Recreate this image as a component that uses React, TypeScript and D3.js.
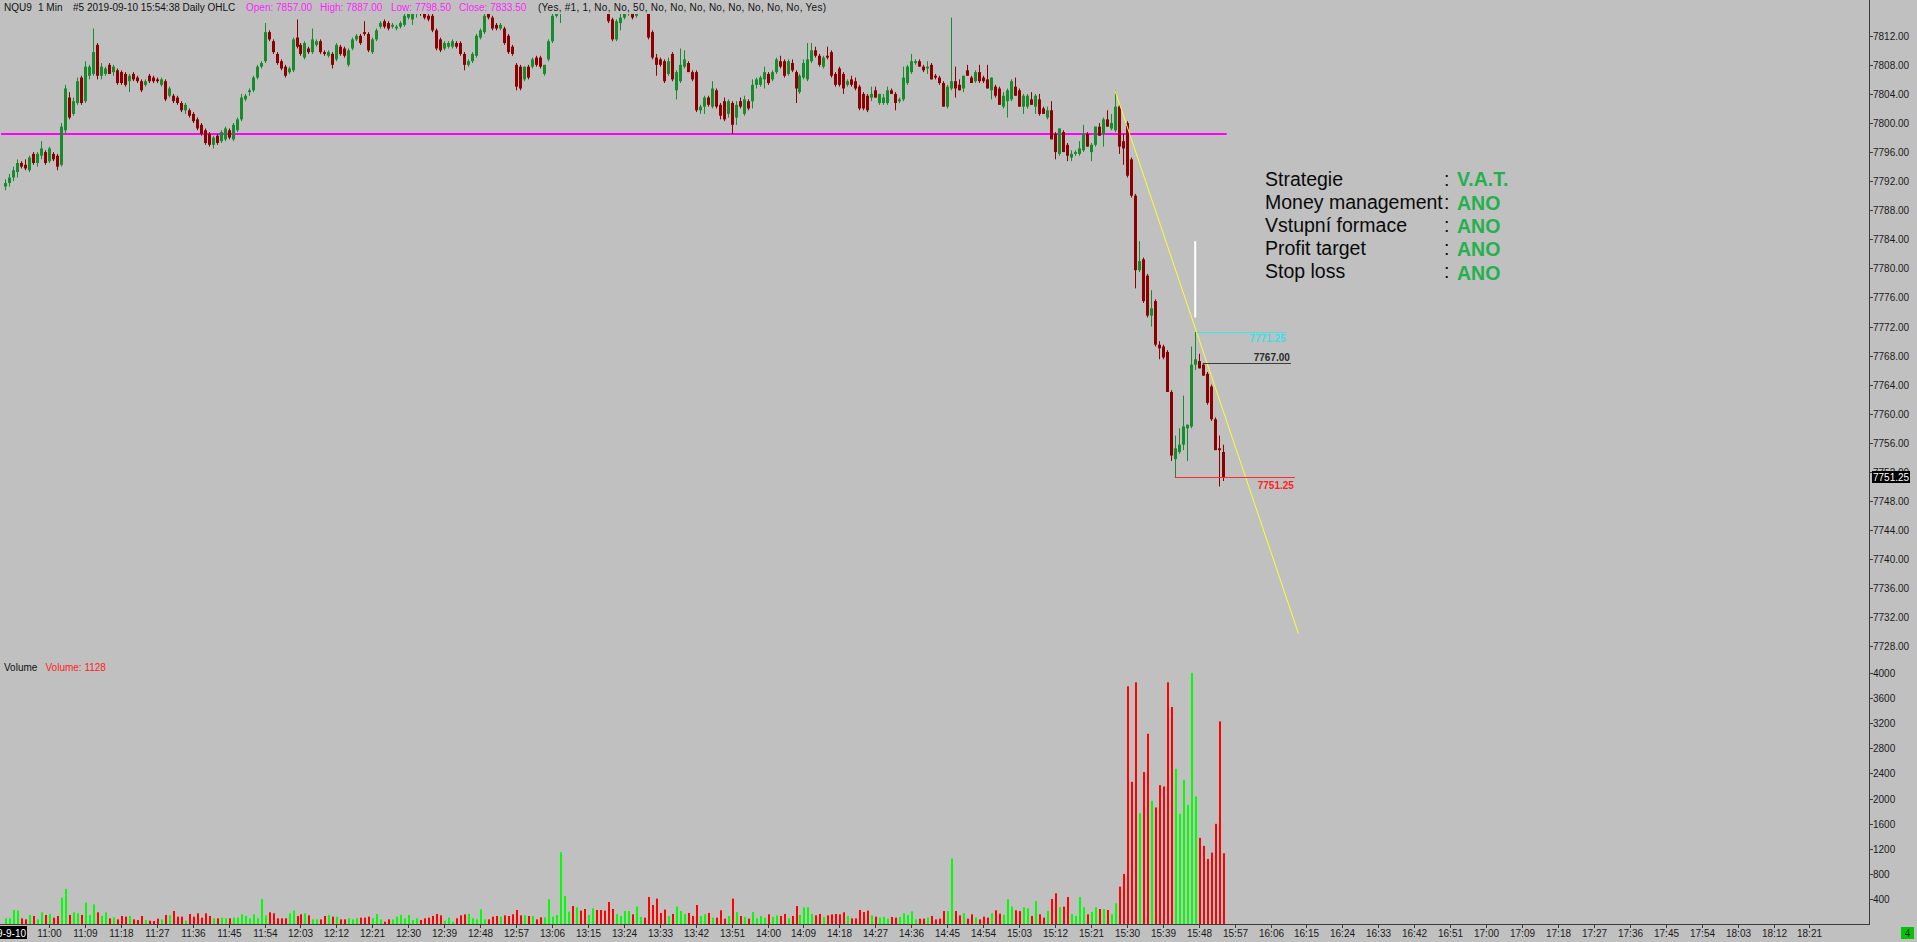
import React, { useEffect } from "react";
import * as d3 from "d3";

const FONT = '"Liberation Sans", Arial, Helvetica, sans-serif';

// ---------------- DATA ----------------
const firstBarTime = "10:49"; // 1-minute bars, NQU9

const opens = [
  7791.25, 7791.75, 7792.5, 7793.25, 7794.5, 7794.25, 7793.5, 7795.75, 7794.5, 7795.5,
  7796, 7794.75, 7795.75, 7795.5, 7794.25, 7799, 7803.5, 7801.25, 7802.75, 7806.25,
  7803, 7806.5, 7806.75, 7810.75, 7806.5, 7806.75, 7808, 7807, 7807.25, 7807,
  7806.75, 7805.75, 7806.75, 7806.25, 7805.75, 7805.25, 7806.5, 7806.25, 7806, 7805.25,
  7805.75, 7803.75, 7803.75, 7803.5, 7802.75, 7801.75, 7801.75, 7801.25, 7800.5, 7799.75,
  7799, 7798.5, 7797, 7798.25, 7797.5, 7797.75, 7799, 7797.75, 7799, 7800.5,
  7803.25, 7804.25, 7804.5, 7806.25, 7807.75, 7808.5, 7812.5, 7811.25, 7809.5, 7808.5,
  7807.75, 7807, 7807.25, 7811.75, 7810.75, 7809, 7810.25, 7809.75, 7810.75, 7811.25,
  7809.75, 7809.25, 7809.5, 7808.75, 7810.5, 7810.25, 7808, 7810.25, 7811.5, 7812,
  7812.5, 7812.25, 7809.75, 7811.5, 7813.25, 7814, 7813.75, 7813.25, 7813, 7813.25,
  7813.5, 7814.5, 7814.25, 7815, 7815.5, 7815, 7814.75, 7814.75, 7812.75, 7811.5,
  7810.25, 7810.5, 7810.5, 7811, 7811, 7809.5, 7808, 7808.5, 7809.25, 7811.75,
  7812.5, 7815, 7814.5, 7813.5, 7813, 7813, 7812, 7810.5, 7808, 7807.75,
  7806, 7807.75, 7807.75, 7809, 7809, 7806.75, 7808.75, 7811.25, 7814.75, 7815.5,
  7816.5, 7817.5, 7818.5, 7818, 7819, 7818.5, 7817.5, 7818, 7818.75, 7818,
  7817, 7815.75, 7814.25, 7811.5, 7813.75, 7814.5, 7815, 7815.5, 7814.75, 7815.5,
  7816.5, 7816, 7812.5, 7809, 7808.75, 7808.5, 7806.75, 7809.5, 7804.5, 7805.75,
  7807.75, 7808.25, 7807, 7807, 7801.75, 7802.25, 7803.5, 7802.25, 7804.5, 7802.5,
  7803, 7801.25, 7802.75, 7800.75, 7803, 7801.25, 7803, 7803, 7805.25, 7805.25,
  7806, 7806.75, 7806, 7807, 7808.5, 7808.5, 7806.75, 7808.25, 7807, 7804.25,
  7806.25, 7806, 7808.5, 7810, 7809.25, 7807.75, 7809.25, 7809.75, 7806.75, 7807.5,
  7806.75, 7805.25, 7806, 7805.75, 7805, 7804, 7803.75, 7803.5, 7804.5, 7802.75,
  7802.75, 7802.75, 7804.5, 7804, 7803, 7803.25, 7805.5, 7807, 7808.25, 7808.5,
  7807.75, 7807.5, 7808, 7806.5, 7806.25, 7805.5, 7802.25, 7804.75, 7805.75, 7805.25,
  7804.75, 7807.25, 7806.25, 7805.75, 7807, 7806.25, 7806, 7804.5, 7805, 7804.75,
  7802.25, 7803, 7803.25, 7805, 7804.5, 7802.25, 7802.25, 7803.25, 7802.25, 7803.25,
  7802, 7800.75, 7801.75, 7798.5, 7795.75, 7798.75, 7797, 7795.25, 7795.75, 7795.75,
  7796.25, 7798.5, 7796, 7797, 7799.5, 7798.5, 7800.5, 7799.25, 7799, 7802.25,
  7797.5, 7800, 7795, 7790, 7779.75, 7781.25, 7779, 7773.5, 7775.5, 7769.5,
  7769.25, 7768.5, 7763, 7753.75, 7754.75, 7755.75, 7758, 7758.25, 7766.75, 7767.25,
  7766.75, 7765.5, 7763.75, 7759.25, 7755.25, 7754.75,
];

const highs = [
  7792.25, 7793, 7794, 7795, 7794.75, 7795, 7795.5, 7796, 7796, 7797.5,
  7796.25, 7796.75, 7796, 7795.75, 7800, 7805.25, 7804.25, 7803.5, 7806.25, 7806.5,
  7808.5, 7808, 7813, 7811, 7808.25, 7807.75, 7808.25, 7808, 7807.5, 7807.25,
  7807, 7806.75, 7807, 7806.5, 7806, 7806, 7806.75, 7806.5, 7806.25, 7806.25,
  7806, 7805, 7804, 7803.75, 7803, 7802.75, 7802, 7801.5, 7800.75, 7800,
  7799.25, 7798.75, 7798.25, 7798.5, 7799, 7799.5, 7799.25, 7800, 7800.75, 7804,
  7804, 7804.75, 7806.5, 7808, 7808.5, 7813.75, 7812.75, 7811.5, 7809.75, 7808.75,
  7808, 7807.75, 7811.75, 7814.25, 7811, 7811.25, 7810.5, 7813, 7811.5, 7811.5,
  7810, 7810, 7809.75, 7811, 7810.75, 7810.5, 7810.25, 7811.75, 7812.25, 7812.25,
  7814, 7812.5, 7811.75, 7813, 7814, 7814.25, 7814, 7813.75, 7813.5, 7814,
  7815, 7815.25, 7815.5, 7816, 7816.25, 7815.5, 7815, 7815.25, 7813, 7811.75,
  7811.25, 7811.25, 7811.5, 7811.25, 7811.25, 7809.75, 7808.75, 7809.75, 7812.25, 7813,
  7815.25, 7815.5, 7814.75, 7813.75, 7813.75, 7813.25, 7812.25, 7810.75, 7808.25, 7808,
  7807.75, 7808, 7809, 7809.25, 7809.25, 7808, 7811.5, 7815.25, 7816, 7816.5,
  7818, 7819, 7819.5, 7819.25, 7820, 7819, 7818.5, 7819, 7819.5, 7818.5,
  7817.5, 7816, 7814.5, 7814.25, 7815, 7815.5, 7816, 7815.75, 7815.5, 7817,
  7817.25, 7816.25, 7812.75, 7809.5, 7809, 7808.75, 7809, 7809.75, 7807.25, 7810.25,
  7810, 7808.5, 7807.25, 7807.25, 7802.5, 7803.75, 7803.75, 7805.75, 7804.75, 7802.75,
  7803.5, 7803.25, 7803, 7803, 7803.5, 7803.75, 7803.25, 7806, 7806.25, 7806.5,
  7807.75, 7807, 7807.25, 7809, 7809.25, 7808.75, 7808.75, 7808.75, 7807.25, 7806.75,
  7808.75, 7811, 7811, 7810.5, 7809.5, 7809.25, 7810.5, 7810, 7807, 7807.75,
  7807, 7806, 7806.5, 7806.25, 7805.25, 7804.25, 7804, 7805, 7805, 7804,
  7804, 7805, 7804.75, 7804.25, 7803.5, 7807.75, 7808, 7809.5, 7808.75, 7808.75,
  7808, 7808.5, 7808.25, 7806.75, 7806.5, 7805.75, 7805.25, 7814.5, 7807.75, 7806,
  7806.5, 7808, 7806.5, 7807.25, 7808, 7806.5, 7808, 7806.25, 7805.25, 7805,
  7804.25, 7804.75, 7806, 7806.25, 7804.75, 7804, 7804, 7804.25, 7804, 7804,
  7802.25, 7802.25, 7803, 7798.75, 7799.25, 7799, 7797.25, 7796.25, 7796.25, 7797.5,
  7799.75, 7798.75, 7797.25, 7799.5, 7800, 7800.75, 7801.75, 7801.25, 7804.5, 7802.5,
  7798.5, 7800.25, 7795.25, 7790.25, 7783.75, 7781.5, 7779.25, 7777, 7775.75, 7770,
  7769.5, 7768.75, 7763.25, 7757, 7758, 7762.5, 7758.5, 7769.25, 7771.25, 7768.25,
  7767, 7765.75, 7764, 7759.5, 7757, 7755.75,
];

const lows = [
  7790.75, 7791.25, 7792, 7792.5, 7793.75, 7793.5, 7793.25, 7794.25, 7794, 7795,
  7794.25, 7794.5, 7794.75, 7793.5, 7794, 7798.5, 7800.5, 7801, 7802.5, 7802.5,
  7802.75, 7806, 7806.5, 7806, 7806, 7806.5, 7806.75, 7806.5, 7805.25, 7805.25,
  7805, 7804.25, 7805.75, 7805.5, 7804.25, 7805, 7805.5, 7805.5, 7805.5, 7805,
  7803, 7803.5, 7802.75, 7802.5, 7801.5, 7801.25, 7800.75, 7800, 7799, 7798.25,
  7797, 7796.75, 7796.5, 7797, 7797.25, 7797.5, 7797.75, 7797.5, 7798.75, 7800.25,
  7803, 7803.75, 7804.25, 7806, 7807.5, 7808.25, 7811.25, 7809.5, 7808, 7807.25,
  7806.25, 7806.75, 7807, 7810.25, 7809.25, 7808.75, 7809.5, 7809.5, 7810.5, 7809.5,
  7809.25, 7809, 7807.5, 7808.5, 7809.25, 7809, 7807.75, 7810, 7811.25, 7810.75,
  7812, 7809.75, 7809.5, 7811.25, 7813, 7813, 7812.75, 7813, 7812.75, 7813,
  7813.25, 7814.25, 7813.5, 7814.5, 7814.75, 7814.25, 7814, 7812.5, 7810, 7809.75,
  7810, 7810.25, 7810.25, 7810.25, 7809.25, 7807.25, 7807.75, 7808.25, 7809, 7811.5,
  7812.25, 7814.25, 7812.75, 7812.75, 7812.75, 7810.75, 7809.5, 7809.25, 7804.5, 7804.5,
  7805.75, 7806, 7807.5, 7807.75, 7807.5, 7806.5, 7808.5, 7811, 7814.5, 7813.75,
  7816, 7817, 7817.5, 7817.25, 7818, 7817, 7816.75, 7817.5, 7817.75, 7816.5,
  7815.75, 7813.75, 7811.25, 7811.25, 7812.75, 7814.25, 7814.75, 7814.25, 7814.5, 7815.25,
  7815.75, 7811.5, 7808.75, 7806.5, 7807.75, 7805.5, 7806.5, 7805.75, 7803.25, 7805.5,
  7807.5, 7807, 7805.75, 7801.5, 7801.25, 7801.25, 7802.25, 7802, 7802, 7800.5,
  7800.25, 7800.75, 7798.5, 7799.75, 7802, 7801, 7801.75, 7802, 7804.75, 7805,
  7804.75, 7805.25, 7805.75, 7806.75, 7807.5, 7806.25, 7806.5, 7807, 7802.75, 7804,
  7806, 7805.75, 7808.25, 7809, 7807.75, 7807.5, 7808.75, 7806.25, 7805, 7805,
  7804, 7805, 7805, 7804.5, 7801.75, 7801.75, 7801.5, 7803, 7803.5, 7802.5,
  7802.5, 7802.5, 7804, 7801.75, 7802.75, 7803, 7805.25, 7806.75, 7808, 7807.75,
  7807, 7806.75, 7806, 7806, 7805.25, 7802.25, 7802, 7804.5, 7803.5, 7804.5,
  7804.25, 7806.5, 7805.5, 7805.5, 7805.5, 7805.5, 7804.75, 7803.25, 7803.5, 7802.5,
  7802, 7800.75, 7803, 7803.75, 7802.25, 7801.25, 7802, 7802.5, 7801.25, 7801,
  7801.25, 7800.5, 7797.75, 7795, 7795.5, 7796, 7794.75, 7794.75, 7795.5, 7795.5,
  7796, 7796.75, 7794.75, 7796.75, 7798.25, 7796.75, 7799.5, 7799, 7798.75, 7795.75,
  7794.25, 7792.5, 7789.75, 7777.25, 7779.5, 7775.25, 7773.25, 7772, 7769.25, 7767.5,
  7767.5, 7763, 7753.5, 7751.25, 7754.5, 7755, 7753.5, 7758, 7766, 7766.25,
  7765.25, 7761.25, 7759, 7755, 7750, 7750.75,
];

const closes = [
  7791.75, 7792.5, 7793.5, 7794.5, 7794, 7793.75, 7795.25, 7794.5, 7795.75, 7796.5,
  7794.5, 7796.5, 7795, 7794, 7799.5, 7804.75, 7800.75, 7803, 7805.75, 7802.75,
  7807.75, 7807.75, 7809.75, 7806.5, 7807.75, 7807.5, 7806.75, 7807.75, 7805.5, 7805.5,
  7805.25, 7806.5, 7806, 7805.75, 7804.5, 7805.75, 7805.75, 7805.75, 7805.75, 7806,
  7803.25, 7804.75, 7803, 7802.75, 7801.75, 7802.5, 7801, 7800.25, 7799.25, 7798.5,
  7797.25, 7797, 7798, 7797.25, 7798.75, 7799.25, 7798, 7799.75, 7800.5, 7803.5,
  7803.75, 7804.5, 7806.25, 7807.75, 7808.25, 7812.5, 7811.5, 7809.75, 7808.25, 7807.5,
  7806.5, 7807.5, 7811.5, 7810.5, 7809.5, 7811, 7809.75, 7811.5, 7811.25, 7809.75,
  7809.5, 7809.75, 7808, 7810.75, 7809.5, 7809.25, 7810, 7811.5, 7812, 7811,
  7812.25, 7810, 7811.5, 7812.75, 7813.75, 7813.25, 7813, 7813.5, 7813.25, 7813.75,
  7814.75, 7815, 7815, 7815.5, 7815, 7814.5, 7814.25, 7812.75, 7810.25, 7810,
  7811, 7811, 7811.25, 7810.5, 7809.5, 7808, 7808.5, 7809.5, 7812, 7812.75,
  7814.75, 7814.5, 7813, 7813, 7813.5, 7811, 7809.75, 7809.5, 7805, 7804.75,
  7807.75, 7806.25, 7808.75, 7808, 7807.75, 7808, 7811.25, 7814.75, 7815.75, 7816.25,
  7817.5, 7818.5, 7818, 7819, 7818.5, 7817.5, 7818, 7818.75, 7818, 7817,
  7816, 7814, 7811.5, 7814, 7814.5, 7815.25, 7815.5, 7814.5, 7815.25, 7816.5,
  7816.25, 7811.75, 7809, 7808, 7808, 7805.75, 7808.5, 7806, 7807, 7808,
  7808.75, 7807, 7806, 7801.75, 7802.25, 7803.5, 7802.5, 7804.75, 7802.25, 7801,
  7800.5, 7803, 7799.75, 7802.5, 7802.25, 7803.25, 7802, 7805.25, 7806, 7806.25,
  7807, 7805.5, 7807, 7808.75, 7807.75, 7806.5, 7808.5, 7807.25, 7804.75, 7806.5,
  7808.25, 7808.75, 7810, 7809.25, 7808, 7809, 7809, 7806.5, 7805.25, 7805.25,
  7804.75, 7805.75, 7805.25, 7804.75, 7802, 7802, 7801.75, 7804, 7803.5, 7804,
  7803.5, 7804.5, 7804, 7802.75, 7803.25, 7806.25, 7807.75, 7808.5, 7808.5, 7807.75,
  7807.25, 7807.75, 7806, 7806.25, 7805.5, 7802.25, 7805, 7805.75, 7804.75, 7804.5,
  7806.5, 7806.5, 7805.5, 7807, 7805.75, 7805.75, 7804.75, 7806.25, 7803.75, 7802.5,
  7803.75, 7804.5, 7805.75, 7803.75, 7802.25, 7803.75, 7803.75, 7802.5, 7803.75, 7801.25,
  7801.25, 7801.75, 7797.75, 7796, 7799.25, 7796, 7795.5, 7795.75, 7796, 7796.5,
  7798.5, 7796.75, 7797, 7799.5, 7798.25, 7800.5, 7799.5, 7800, 7802.25, 7796.75,
  7796.5, 7792.75, 7790, 7779.75, 7781, 7775.5, 7773.5, 7774.5, 7769.5, 7769,
  7767.75, 7763, 7754.25, 7755.25, 7755.75, 7758.25, 7758.5, 7766.75, 7767.5, 7766.25,
  7765.25, 7761.5, 7759.25, 7755, 7755, 7751.25,
];

const volumes = [
  90, 90, 223, 213, 90, 74, 144, 128, 74, 186,
  144, 160, 101, 128, 420, 559, 144, 186, 170, 144,
  340, 144, 314, 186, 128, 186, 90, 106, 74, 128,
  117, 128, 74, 64, 128, 64, 53, 48, 85, 74,
  144, 138, 207, 117, 117, 53, 160, 117, 170, 101,
  170, 128, 90, 90, 101, 90, 90, 101, 101, 154,
  128, 90, 154, 90, 399, 138, 186, 170, 90, 90,
  90, 170, 213, 128, 154, 170, 138, 74, 74, 74,
  128, 144, 117, 117, 74, 74, 90, 74, 90, 101,
  101, 117, 90, 160, 74, 37, 74, 74, 117, 144,
  90, 144, 64, 90, 64, 90, 101, 128, 160, 138,
  53, 101, 37, 90, 138, 154, 160, 90, 74, 234,
  74, 74, 117, 128, 117, 138, 128, 154, 223, 138,
  138, 128, 128, 74, 106, 106, 394, 117, 144, 1144,
  447, 197, 287, 266, 213, 239, 144, 250, 223, 223,
  213, 351, 239, 160, 128, 207, 207, 154, 277, 112,
  101, 431, 303, 404, 176, 229, 128, 160, 277, 207,
  160, 176, 128, 303, 128, 154, 176, 101, 101, 218,
  85, 128, 404, 192, 128, 112, 85, 192, 90, 128,
  101, 154, 112, 138, 128, 160, 90, 128, 287, 144,
  266, 266, 160, 138, 160, 112, 138, 154, 160, 154,
  186, 128, 90, 90, 223, 192, 213, 138, 117, 101,
  112, 85, 112, 101, 112, 170, 144, 202, 74, 85,
  85, 101, 128, 74, 85, 207, 207, 1043, 207, 138,
  170, 85, 154, 101, 74, 117, 101, 170, 218, 165,
  144, 394, 277, 218, 207, 266, 250, 128, 367, 154,
  101, 207, 399, 489, 266, 277, 431, 160, 128, 431,
  266, 154, 192, 266, 239, 239, 223, 154, 330, 596,
  798, 3788, 2266, 3852, 1766, 2421, 3032, 1963, 1857, 2213,
  2192, 3852, 3458, 2474, 1756, 2298, 1899, 4001, 2032, 1373,
  1245, 1037, 1138, 1596, 3229, 1128,
];

const priceTicks = [
  7812, 7808, 7804, 7800, 7796, 7792, 7788, 7784, 7780, 7776, 7772,
  7768, 7764, 7760, 7756, 7752, 7748, 7744, 7740, 7736, 7732, 7728,
];
const volumeTicks = [4000, 3600, 3200, 2800, 2400, 2000, 1600, 1200, 800, 400];
const timeLabels = [
  "11:00", "11:09", "11:18", "11:27", "11:36", "11:45", "11:54", "12:03", "12:12", "12:21",
  "12:30", "12:39", "12:48", "12:57", "13:06", "13:15", "13:24", "13:33", "13:42", "13:51",
  "14:00", "14:09", "14:18", "14:27", "14:36", "14:45", "14:54", "15:03", "15:12", "15:21",
  "15:30", "15:39", "15:48", "15:57", "16:06", "16:15", "16:24", "16:33", "16:42", "16:51",
  "17:00", "17:09", "17:18", "17:27", "17:36", "17:45", "17:54", "18:03", "18:12", "18:21",
];

const lastPrice = 7751.25;
const lastVolume = 1128;
const priorDayLow = { price: 7798.5, from: "10:48", to: "15:55" };
const trendLine = [
  { time: "15:27", price: 7804.5 },
  { time: "16:13", price: 7729.75 },
];
const whiteMarker = { time: "15:47", top: 7783.75, bottom: 7773.25 };
const targetLevels = [
  { key: "target", price: 7771.25, from: "15:47.5", to: "16:10" },
  { key: "entry", price: 7767.0, from: "15:49", to: "16:11.1" },
  { key: "stop", price: 7751.25, from: "15:42", to: "16:12.1" },
];
const dailyOhlc = [
  { label: "Open", value: 7857.0 },
  { label: "High", value: 7887.0 },
  { label: "Low", value: 7798.5 },
  { label: "Close", value: 7833.5 },
];
const checklistLabels = ["Strategie", "Money management", "Vstupní formace", "Profit target", "Stop loss"];
const checklistValues = ["V.A.T.", "ANO", "ANO", "ANO", "ANO"];

// ---------------- HELPERS ----------------
const toMin = (s: string) => {
  const [h, m] = s.split(":").map(Number);
  return h * 60 + m;
};

const W = 1917;
const H = 942;
const AXIS_X = 1869;
const AXIS_Y = 924;

const x = d3.scaleLinear().domain([660, 1101]).range([49, 49 + 441 * 3.992]);
const yP = d3.scaleLinear().domain([7728, 7800]).range([646.4, 123]);
const yV = d3.scaleLinear().domain([0, 4000]).range([AXIS_Y, 673]);

const GREEN = "#168c2b";
const RED = "#8b0000";
const VGREEN = "#00ff00";
const VRED = "#ff0000";

const levelStyle: Record<string, { line: string; text: string; dy: number }> = {
  target: { line: "#44e3ea", text: "#3fdde6", dy: 9.5 },
  entry: { line: "#3a3a3a", text: "#2a2a2a", dy: -3 },
  stop: { line: "#ff2a2a", text: "#ff2020", dy: 11 },
};

export default function App() {
  useEffect(() => {
    document.body.style.margin = "0";
    document.body.style.background = "#c0c0c0";
  }, []);

  const t0 = toMin(firstBarTime);
  const bars = closes.map((c, i) => ({
    i,
    o: opens[i],
    h: highs[i],
    l: lows[i],
    c,
    v: volumes[i],
    cx: Math.round(x(t0 + i)),
  }));

  const trendPath = d3
    .line<{ time: string; price: number }>()
    .x((d) => x(toMin(d.time)))
    .y((d) => yP(d.price))(trendLine) as string;

  const headerStyle = { fontFamily: FONT, fontSize: 10 } as const;

  return (
    <svg
      width={W}
      height={H}
      style={{ position: "fixed", left: 0, top: 0, display: "block", background: "#c0c0c0" }}
      xmlns="http://www.w3.org/2000/svg"
    >
      <defs>
        <clipPath id="pricePanel">
          <rect x={0} y={14} width={AXIS_X} height={652} />
        </clipPath>
        <clipPath id="volPanel">
          <rect x={0} y={668} width={AXIS_X} height={AXIS_Y - 668} />
        </clipPath>
      </defs>
      <rect x={0} y={0} width={W} height={H} fill="#c0c0c0" />

      {/* Price panel */}
      <g clipPath="url(#pricePanel)">
        <line
          x1={x(toMin(priorDayLow.from))}
          x2={x(toMin(priorDayLow.to))}
          y1={yP(priorDayLow.price)}
          y2={yP(priorDayLow.price)}
          stroke="#ff00ff"
          strokeWidth={2}
        />
        {bars.map((b) => {
          const up = b.c >= b.o;
          const col = up ? GREEN : RED;
          const yTop = yP(Math.max(b.o, b.c));
          const yBot = yP(Math.min(b.o, b.c));
          return (
            <g key={b.i}>
              <rect x={b.cx} y={yP(b.h)} width={1} height={Math.max(1, yP(b.l) - yP(b.h))} fill={col} />
              <rect x={b.cx - 1} y={yTop} width={3} height={Math.max(1, yBot - yTop)} fill={col} />
            </g>
          );
        })}
        <path d={trendPath} stroke="#ffff2e" strokeWidth={1} fill="none" />
        <line
          x1={x(toMin(whiteMarker.time)) + 0.5}
          x2={x(toMin(whiteMarker.time)) + 0.5}
          y1={yP(whiteMarker.top)}
          y2={yP(whiteMarker.bottom)}
          stroke="#ffffff"
          strokeWidth={2}
        />
        {targetLevels.map((lv) => {
          const st = levelStyle[lv.key];
          const x1 = x(toMin(lv.from));
          const x2 = x(toMin(lv.to));
          const yy = Math.round(yP(lv.price)) + 0.5;
          return (
            <g key={lv.key}>
              <line x1={x1} x2={x2} y1={yy} y2={yy} stroke={st.line} strokeWidth={1} />
              <text
                x={x2 - 1}
                y={yy + st.dy}
                textAnchor="end"
                fontFamily={FONT}
                fontSize={10}
                fontWeight="bold"
                fill={st.text}
              >
                {lv.price.toFixed(2)}
              </text>
            </g>
          );
        })}
      </g>

      {/* Volume panel */}
      <g clipPath="url(#volPanel)">
        {bars.map((b) => (
          <rect
            key={"v" + b.i}
            x={b.cx}
            y={yV(b.v)}
            width={2}
            height={AXIS_Y - yV(b.v)}
            fill={b.c >= b.o ? VGREEN : VRED}
          />
        ))}
      </g>

      {/* Header */}
      <g style={headerStyle}>
        <text x={4} y={11} fill="#111">NQU9</text>
        <text x={38} y={11} fill="#111">1 Min</text>
        <text x={73} y={11} fill="#111">#5 2019-09-10 15:54:38 Daily OHLC</text>
        {dailyOhlc.map((d, k) => (
          <text key={d.label} x={[246, 320, 391, 459][k]} y={11} fill="#ff22ff">
            {d.label}: {d.value.toFixed(2)}
          </text>
        ))}
        <text x={538} y={11} fill="#111" textLength={288} lengthAdjust="spacing">
          (Yes, #1, 1, No, No, 50, No, No, No, No, No, No, No, No, Yes)
        </text>
      </g>

      {/* Checklist */}
      <g fontFamily={FONT} fontSize={19.5}>
        {checklistLabels.map((lab, k) => {
          const yy = 186 + k * 22.9;
          return (
            <g key={lab}>
              <text x={1265} y={yy} fill="#0a0a0a">{lab}</text>
              <text x={1444} y={yy} fill="#0a0a0a">:</text>
              <text x={1457} y={yy + (k > 0 ? 0.8 + k * 0.3 : 0)} fill="#22b14c" fontWeight="bold">
                {checklistValues[k]}
              </text>
            </g>
          );
        })}
      </g>

      {/* Volume title */}
      <text x={4} y={670.5} fontFamily={FONT} fontSize={10} fill="#111">Volume</text>
      <text x={45.5} y={670.5} fontFamily={FONT} fontSize={10} fill="#ff2020">
        Volume: {lastVolume}
      </text>

      {/* Axes */}
      <line x1={AXIS_X + 0.5} x2={AXIS_X + 0.5} y1={0} y2={AXIS_Y + 1} stroke="#3c3c3c" strokeWidth={1} />
      <line x1={0} x2={AXIS_X + 1} y1={AXIS_Y + 0.5} y2={AXIS_Y + 0.5} stroke="#3c3c3c" strokeWidth={1} />

      {priceTicks.map((p) => {
        const yy = Math.round(yP(p)) + 0.5;
        return (
          <g key={"p" + p}>
            <line x1={AXIS_X} x2={AXIS_X + 4} y1={yy} y2={yy} stroke="#3c3c3c" />
            <text x={1873} y={yy + 3.5} fontFamily={FONT} fontSize={10} fill="#1a1a1a">
              {p.toFixed(2)}
            </text>
          </g>
        );
      })}
      {volumeTicks.map((v) => {
        const yy = Math.round(yV(v)) + 0.5;
        return (
          <g key={"v" + v}>
            <line x1={AXIS_X} x2={AXIS_X + 4} y1={yy} y2={yy} stroke="#3c3c3c" />
            <text x={1873} y={yy + 3.5} fontFamily={FONT} fontSize={10} fill="#1a1a1a">
              {v}
            </text>
          </g>
        );
      })}

      {/* Last price marker */}
      <rect x={1872} y={Math.round(yP(lastPrice)) - 6} width={38} height={12} fill="#000" />
      <text x={1873} y={Math.round(yP(lastPrice)) + 3.5} fontFamily={FONT} fontSize={10} fill="#fff">
        {lastPrice.toFixed(2)}
      </text>

      {/* Time axis */}
      {timeLabels.map((t) => {
        const xx = Math.round(x(toMin(t))) + 0.5;
        return (
          <g key={t}>
            <line x1={xx} x2={xx} y1={AXIS_Y} y2={AXIS_Y + 4} stroke="#3c3c3c" />
            <text x={xx} y={937} textAnchor="middle" fontFamily={FONT} fontSize={10} fill="#1a1a1a">
              {t}
            </text>
          </g>
        );
      })}
      <rect x={0} y={926} width={27} height={13} fill="#000" />
      <text x={26} y={937} textAnchor="end" fontFamily={FONT} fontSize={10} fill="#fff">
        9-9-10
      </text>

      <rect x={1901} y={927} width={13} height={12} fill="#00c800" />
      <text x={1907.5} y={937} textAnchor="middle" fontFamily={FONT} fontSize={10} fill="#111">
        4
      </text>
    </svg>
  );
}
